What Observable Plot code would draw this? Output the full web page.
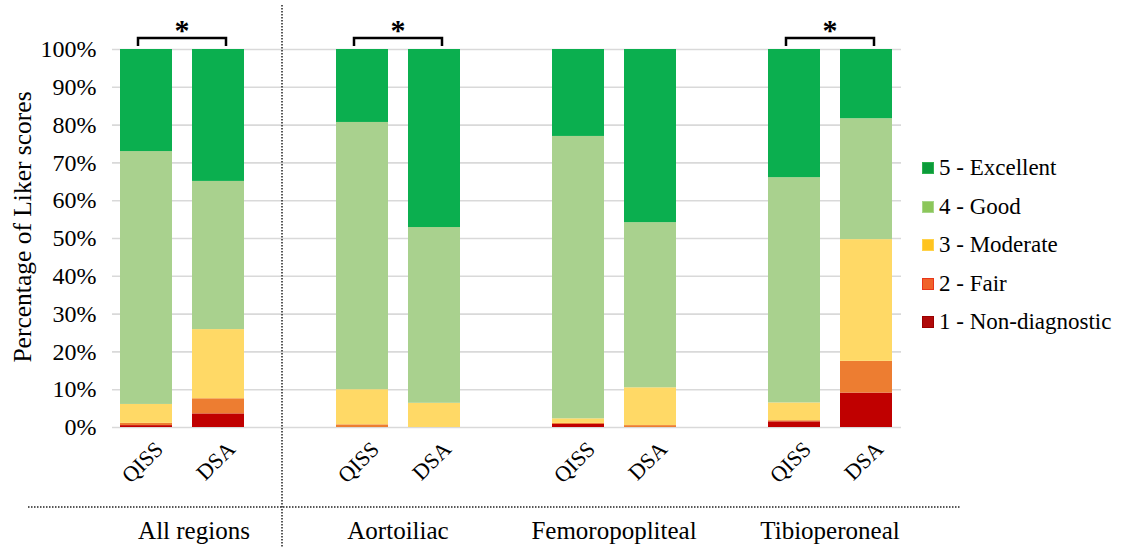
<!DOCTYPE html>
<html>
<head>
<meta charset="utf-8">
<script src="https://cdn.jsdelivr.net/npm/d3@7"></script>
<script src="https://cdn.jsdelivr.net/npm/@observablehq/plot@0.6"></script>
<style>
  html, body { margin: 0; padding: 0; background: #fff; }
  #wrap { position: relative; width: 1123px; height: 547px; overflow: hidden; font-family: "Liberation Serif", "Times New Roman", serif; }
  #legend { position: absolute; left: 922px; top: 149px; }
  .item { display: flex; align-items: center; height: 38.5px; font-size: 23px; color: #000; white-space: nowrap; }
  .sw { width: 12px; height: 12px; margin-right: 5px; box-sizing: border-box; }
</style>
</head>
<body>
<div id="wrap"><div id="legend"></div></div>
<script>
const regions = ["All regions", "Aortoiliac", "Femoropopliteal", "Tibioperoneal"];
const modalities = ["QISS", "DSA"];
const scores = ["1 - Non-diagnostic", "2 - Fair", "3 - Moderate", "4 - Good", "5 - Excellent"];
const scoreColors = ["#C00000", "#ED7D31", "#FFD966", "#A9D18E", "#0BAF4F"];
const legendColors = ["#B00A0A", "#F0622A", "#FFC41F", "#8CC65A", "#0B9B3A"];
const legendBorders = ["#9A0000", "#E8361A", "#FFD24A", "#A7D68A", "#2DB04F"];
// percentages per score (1..5) for each region
const qissValues = [
  [0.5, 0.6, 5.0, 66.9, 27.0],
  [0.0, 0.7, 9.3, 70.7, 19.3],
  [0.8, 0.3, 1.2, 74.7, 23.0],
  [1.5, 0.3, 4.7, 59.6, 33.9]
];
const dsaValues = [
  [3.6, 4.0, 18.3, 39.2, 34.9],
  [0.0, 0.0, 6.4, 46.5, 47.1],
  [0.0, 0.5, 10.0, 43.7, 45.8],
  [9.1, 8.4, 32.2, 32.0, 18.3]
];
const significant = ["All regions", "Aortoiliac", "Tibioperoneal"];
const yTicks = [0, 10, 20, 30, 40, 50, 60, 70, 80, 90, 100];
const yTitle = "Percentage of Liker scores";

// build table
const rows = [];
const bars = [];
const xDomain = [];
regions.forEach((r, i) => {
  modalities.forEach(m => {
    const key = r + "|" + m;
    xDomain.push(key);
    bars.push({key, label: m, region: r, base: 0});
    const vals = m === "QISS" ? qissValues[i] : dsaValues[i];
    scores.forEach((s, j) => rows.push({key, region: r, modality: m, score: s, value: vals[j]}));
  });
  if (i < regions.length - 1) xDomain.push("gap" + i);
});

function annotations(index, scales, values, dims) {
  const x = scales.x, y = scales.y;
  const bw = x.bandwidth ? x.bandwidth() : 0;
  const cx = k => x(k) + bw / 2;
  const g = d3.create("svg:g");
  const top = y(100);
  // significance brackets
  for (const r of significant) {
    const x1 = cx(r + "|QISS") - 8, x2 = cx(r + "|DSA") + 8;
    const yb = top - 11;
    g.append("path")
      .attr("d", `M${x1},${yb + 8}V${yb}H${x2}V${yb + 8}`)
      .attr("fill", "none").attr("stroke", "#000").attr("stroke-width", 2.5);
    g.append("text").attr("x", (x1 + x2) / 2).attr("y", yb + 2)
      .attr("text-anchor", "middle").attr("font-size", 30).attr("font-weight", "bold")
      .text("*");
  }
  // vertical dotted divider
  const divX = (x(regions[0] + "|DSA") + bw + x(regions[1] + "|QISS")) / 2 - 8;
  g.append("line").attr("x1", divX).attr("x2", divX).attr("y1", 5).attr("y2", dims.height)
    .attr("stroke", "#222").attr("stroke-width", 1.5).attr("stroke-dasharray", "1.5,1.5");
  // horizontal dotted line
  const hy = dims.height - 40;
  g.append("line").attr("x1", 28).attr("x2", 960).attr("y1", hy).attr("y2", hy)
    .attr("stroke", "#222").attr("stroke-width", 1.5).attr("stroke-dasharray", "1.5,1.5");
  // group labels
  regions.forEach((r, i) => {
    const mx = i === 0 ? (dims.marginLeft + divX) / 2 - 3 : (cx(r + "|QISS") + cx(r + "|DSA")) / 2;
    g.append("text").attr("x", mx).attr("y", hy + 32).attr("text-anchor", "middle")
      .attr("font-size", 25).text(r);
  });
  // y title
  const my = (y(0) + y(100)) / 2 - 11;
  g.append("text").attr("transform", `translate(31,${my}) rotate(-90)`)
    .attr("text-anchor", "middle").attr("font-size", 25.5).text(yTitle);
  return g.node();
}

const chart = Plot.plot({
  width: 1123,
  height: 547,
  marginLeft: 112,
  marginRight: 222,
  marginTop: 49,
  marginBottom: 120,
  style: {fontFamily: "'Liberation Serif', 'Times New Roman', serif", fontSize: "24px", color: "#000", background: "transparent"},
  x: {domain: xDomain, paddingInner: 0.275, paddingOuter: 0.086, axis: null},
  y: {domain: [0, 100], ticks: yTicks, tickFormat: d => d + "%", tickSize: 0, tickPadding: 16, label: null},
  color: {domain: scores, range: scoreColors},
  marks: [
    Plot.ruleY(yTicks, {stroke: "#d9d9d9", strokeWidth: 1.6}),
    Plot.barY(rows, {x: "key", y: "value", fill: "score"}),
    Plot.text(bars, {x: "key", y: "base", text: "label", rotate: -45, textAnchor: "end", dx: 13, dy: 18, fontSize: 22}),
    annotations
  ]
});
document.getElementById("wrap").prepend(chart);

// legend (top item = score 5)
const legend = d3.select("#legend");
scores.slice().reverse().forEach((s, k) => {
  const j = scores.length - 1 - k;
  const it = legend.append("div").attr("class", "item");
  it.append("div").attr("class", "sw").style("background", legendColors[j]).style("border", `1px solid ${legendBorders[j]}`);
  it.append("span").text(s);
});
</script>
</body>
</html>
